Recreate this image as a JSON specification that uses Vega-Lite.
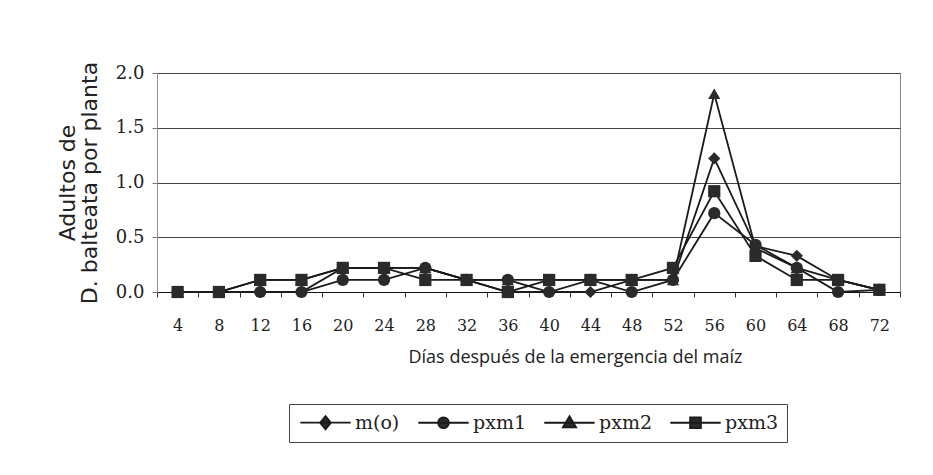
{
  "$schema": "https://vega.github.io/schema/vega-lite/v6.json",
  "autosize": {"type": "none"},
  "width": 743,
  "height": 219,
  "padding": {"left": 157, "top": 73, "right": 33, "bottom": 183},
  "background": "white",
  "config": {
    "view": {"stroke": "#888", "strokeWidth": 1},
    "axis": {"labelFont": "DejaVu Serif", "labelFontSize": 16, "labelColor": "#222", "titleColor": "#222", "titleFontWeight": "normal"}
  },
  "data": {"values": [
    {"dia": "4", "serie": "m(o)", "v": 0}, {"dia": "8", "serie": "m(o)", "v": 0}, {"dia": "12", "serie": "m(o)", "v": 0}, {"dia": "16", "serie": "m(o)", "v": 0},
    {"dia": "20", "serie": "m(o)", "v": 0.22}, {"dia": "24", "serie": "m(o)", "v": 0.22}, {"dia": "28", "serie": "m(o)", "v": 0.22}, {"dia": "32", "serie": "m(o)", "v": 0.11},
    {"dia": "36", "serie": "m(o)", "v": 0}, {"dia": "40", "serie": "m(o)", "v": 0}, {"dia": "44", "serie": "m(o)", "v": 0}, {"dia": "48", "serie": "m(o)", "v": 0.11},
    {"dia": "52", "serie": "m(o)", "v": 0.11}, {"dia": "56", "serie": "m(o)", "v": 1.22}, {"dia": "60", "serie": "m(o)", "v": 0.42}, {"dia": "64", "serie": "m(o)", "v": 0.33},
    {"dia": "68", "serie": "m(o)", "v": 0.11}, {"dia": "72", "serie": "m(o)", "v": 0.02},

    {"dia": "4", "serie": "pxm1", "v": 0}, {"dia": "8", "serie": "pxm1", "v": 0}, {"dia": "12", "serie": "pxm1", "v": 0}, {"dia": "16", "serie": "pxm1", "v": 0},
    {"dia": "20", "serie": "pxm1", "v": 0.11}, {"dia": "24", "serie": "pxm1", "v": 0.11}, {"dia": "28", "serie": "pxm1", "v": 0.22}, {"dia": "32", "serie": "pxm1", "v": 0.11},
    {"dia": "36", "serie": "pxm1", "v": 0.11}, {"dia": "40", "serie": "pxm1", "v": 0}, {"dia": "44", "serie": "pxm1", "v": 0.11}, {"dia": "48", "serie": "pxm1", "v": 0},
    {"dia": "52", "serie": "pxm1", "v": 0.11}, {"dia": "56", "serie": "pxm1", "v": 0.72}, {"dia": "60", "serie": "pxm1", "v": 0.43}, {"dia": "64", "serie": "pxm1", "v": 0.22},
    {"dia": "68", "serie": "pxm1", "v": 0}, {"dia": "72", "serie": "pxm1", "v": 0.02},

    {"dia": "4", "serie": "pxm2", "v": 0}, {"dia": "8", "serie": "pxm2", "v": 0}, {"dia": "12", "serie": "pxm2", "v": 0.11}, {"dia": "16", "serie": "pxm2", "v": 0.11},
    {"dia": "20", "serie": "pxm2", "v": 0.22}, {"dia": "24", "serie": "pxm2", "v": 0.22}, {"dia": "28", "serie": "pxm2", "v": 0.22}, {"dia": "32", "serie": "pxm2", "v": 0.11},
    {"dia": "36", "serie": "pxm2", "v": 0.11}, {"dia": "40", "serie": "pxm2", "v": 0.11}, {"dia": "44", "serie": "pxm2", "v": 0.11}, {"dia": "48", "serie": "pxm2", "v": 0.11},
    {"dia": "52", "serie": "pxm2", "v": 0.11}, {"dia": "56", "serie": "pxm2", "v": 1.81}, {"dia": "60", "serie": "pxm2", "v": 0.40}, {"dia": "64", "serie": "pxm2", "v": 0.22},
    {"dia": "68", "serie": "pxm2", "v": 0.11}, {"dia": "72", "serie": "pxm2", "v": 0.02},

    {"dia": "4", "serie": "pxm3", "v": 0}, {"dia": "8", "serie": "pxm3", "v": 0}, {"dia": "12", "serie": "pxm3", "v": 0.11}, {"dia": "16", "serie": "pxm3", "v": 0.11},
    {"dia": "20", "serie": "pxm3", "v": 0.22}, {"dia": "24", "serie": "pxm3", "v": 0.22}, {"dia": "28", "serie": "pxm3", "v": 0.11}, {"dia": "32", "serie": "pxm3", "v": 0.11},
    {"dia": "36", "serie": "pxm3", "v": 0}, {"dia": "40", "serie": "pxm3", "v": 0.11}, {"dia": "44", "serie": "pxm3", "v": 0.11}, {"dia": "48", "serie": "pxm3", "v": 0.11},
    {"dia": "52", "serie": "pxm3", "v": 0.22}, {"dia": "56", "serie": "pxm3", "v": 0.92}, {"dia": "60", "serie": "pxm3", "v": 0.33}, {"dia": "64", "serie": "pxm3", "v": 0.11},
    {"dia": "68", "serie": "pxm3", "v": 0.11}, {"dia": "72", "serie": "pxm3", "v": 0.02}
  ]},
  "encoding": {
    "x": {
      "field": "dia", "type": "ordinal", "sort": null, "bandPosition": 0.5,
      "scale": {"type": "band", "paddingInner": 0, "paddingOuter": 0},
      "axis": {
        "title": "Días después de la emergencia del maíz",
        "titleFont": "Open Sans", "titleFontSize": 18, "titlePadding": 15, "titleX": 418, "titleAlign": "center",
        "labelAngle": 0, "labelPadding": 20, "tickBand": "extent",
        "tickSize": 5, "tickColor": "#333", "domainColor": "#111", "domainWidth": 1.2
      }
    },
    "y": {
      "field": "v", "type": "quantitative",
      "scale": {"domain": [0, 2]},
      "axis": {
        "title": ["Adultos de", "D. balteata por planta"],
        "titleFont": "DejaVu Sans", "titleFontSize": 22, "titlePadding": 14, "titleLineHeight": 22,
        "values": [0, 0.5, 1, 1.5, 2], "format": ".1f", "labelPadding": 8, "labelFontSize": 18,
        "tickSize": 5, "tickColor": "#777", "domainColor": "#999", "domainDash": [1, 1],
        "grid": true, "gridColor": "#444", "gridWidth": 1.2
      }
    }
  },
  "layer": [
    {
      "mark": {"type": "line", "color": "#1a1a1a", "strokeWidth": 1.8},
      "encoding": {"detail": {"field": "serie"}}
    },
    {
      "mark": {"type": "point", "filled": true, "opacity": 1, "size": 150, "color": "#2a2a2a"},
      "encoding": {
        "shape": {
          "field": "serie", "type": "nominal",
          "scale": {"domain": ["m(o)", "pxm1", "pxm2", "pxm3"], "range": ["diamond", "circle", "triangle-up", "square"]},
          "legend": null
        }
      }
    },
    {
      "transform": [{"filter": "datum.v < -1"}],
      "mark": {"type": "point", "filled": true, "opacity": 1, "fill": "#2a2a2a", "stroke": "#1a1a1a", "strokeWidth": 1.8},
      "encoding": {
        "shape": {
          "field": "serie", "type": "nominal",
          "scale": {"domain": ["m(o)", "pxm1", "pxm2", "pxm3"], "range": [
            "M-4.2,0H4.2M0,-1.1L0.9,0L0,1.1L-0.9,0Z",
            "M-4.2,0H4.2M-0.9,0A0.9,0.9,0,1,0,0.9,0A0.9,0.9,0,1,0,-0.9,0Z",
            "M-4.2,0H4.2M0,-1.1L1.1,0.75L-1.1,0.75Z",
            "M-4.2,0H4.2M-0.9,-0.9H0.9V0.9H-0.9Z"
          ]},
          "legend": {
            "title": null, "orient": "none", "direction": "horizontal",
            "legendX": 132, "legendY": 331,
            "strokeColor": "#444", "padding": 9, "cornerRadius": 0,
            "labelFont": "DejaVu Serif", "labelFontSize": 19, "labelColor": "#222",
            "symbolSize": 144, "symbolOffset": 18, "labelOffset": 20, "columnPadding": 14,
            "symbolStrokeWidth": 1.8, "symbolOpacity": 1
          }
        }
      }
    }
  ],
  "resolve": {"scale": {"shape": "independent"}, "legend": {"shape": "independent"}}
}
